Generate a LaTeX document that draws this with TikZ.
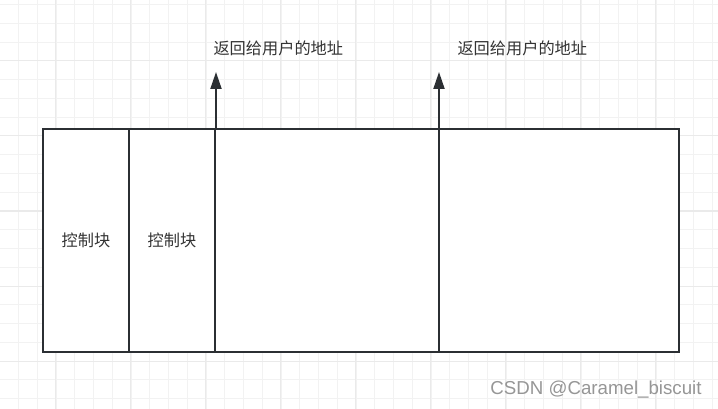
\documentclass[tikz,border=0pt]{standalone}
\usepackage{fontspec}
\setmainfont{Liberation Sans}
\newfontfamily\cjk{Noto Sans CJK SC}
\usetikzlibrary{arrows.meta}
\definecolor{ink}{RGB}{43,47,51}
\definecolor{label}{RGB}{51,51,51}
\definecolor{gridminor}{RGB}{242,242,242}
\definecolor{gridmajor}{RGB}{234,234,234}
\definecolor{mark}{RGB}{150,150,150}
\tikzset{
  cell/.style={draw=ink, line width=2pt, fill=white, inner sep=0pt, minimum height=223pt},
  celltext/.style={font=\cjk\fontsize{16.2}{19}\selectfont, text=label},
  addr/.style={font=\cjk\fontsize{16.2}{19}\selectfont, text=label, anchor=west},
  ret/.style={-{Triangle[length=17pt,width=11pt]}, draw=ink, line width=2pt}
}

\begin{document}
\begin{tikzpicture}[x=1pt, y=-1pt]
  \useasboundingbox (0,0) rectangle (718,409);
  \fill[white] (0,0) rectangle (718,409);
  % grid
  \foreach \i in {0,...,38} {
    \draw[gridminor, line width=1pt] ({-0.25+18.75*\i},0) -- ({-0.25+18.75*\i},409);
  }
  \foreach \i in {0,...,22} {
    \draw[gridminor, line width=1pt] (0,{4.75+18.75*\i}) -- (718,{4.75+18.75*\i});
  }
  \foreach \i in {0,...,9} {
    \draw[gridmajor, line width=1pt] ({-20+75*\i},0) -- ({-20+75*\i},409);
  }
  \foreach \i in {0,...,5} {
    \draw[gridmajor, line width=1pt] (0,{61+75*\i}) -- (718,{61+75*\i});
  }
  % memory blocks
  \node[cell, minimum width=86pt, anchor=north west] (cb1) at (42,128) {};
  \node[cell, minimum width=86pt, anchor=north west] (cb2) at (128,128) {};
  \node[cell, minimum width=224pt, anchor=north west] (blk1) at (214,128) {};
  \node[cell, minimum width=240pt, anchor=north west] (blk2) at (438,128) {};
  \node[celltext] (t1) at (cb1.center) {控制块};
  \node[celltext] (t2) at (cb2.center) {控制块};
  % returned addresses
  \coordinate (base1) at (216,128);
  \coordinate (tip1) at (216,72);
  \coordinate (base2) at (439,128);
  \coordinate (tip2) at (439,72);
  \draw[ret] (base1) -- (tip1);
  \draw[ret] (base2) -- (tip2);
  \node[addr] (a1) at (210,48) {返回给用户的地址};
  \node[addr] (a2) at (454,48) {返回给用户的地址};
  \node[font=\fontsize{18.7}{20}\selectfont, text=mark] (wm) at (596,390) {CSDN @Caramel\_biscuit};
\end{tikzpicture}
\end{document}
